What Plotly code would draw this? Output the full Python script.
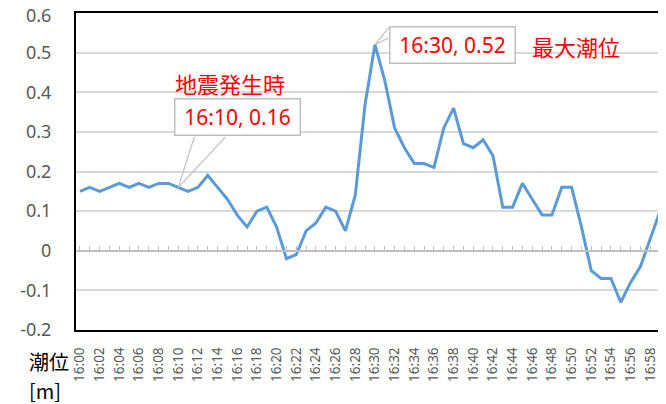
import plotly.graph_objects as go

# ---- data ----
times = ["16:%02d" % m for m in range(60)] + ["17:00"]
levels = [0.15, 0.16, 0.15, 0.16, 0.17, 0.16, 0.17, 0.16, 0.17, 0.17,
          0.16, 0.15, 0.16, 0.19, 0.16, 0.13, 0.09, 0.06, 0.10, 0.11,
          0.06, -0.02, -0.01, 0.05, 0.07, 0.11, 0.10, 0.05, 0.14, 0.37,
          0.52, 0.43, 0.31, 0.26, 0.22, 0.22, 0.21, 0.31, 0.36, 0.27,
          0.26, 0.28, 0.24, 0.11, 0.11, 0.17, 0.13, 0.09, 0.09, 0.16,
          0.16, 0.06, -0.05, -0.07, -0.07, -0.13, -0.08, -0.04, 0.03, 0.10,
          0.17]
y_tickvals = [-0.2, -0.1, 0, 0.1, 0.2, 0.3, 0.4, 0.5, 0.6]
y_ticktext = ["-0.2", "-0.1", "0", "0.1", "0.2", "0.3", "0.4", "0.5", "0.6"]
x_tickvals = times[::2]
quake_idx = 10
peak_idx = 30

# ---- layout geometry ----
# the page body adds an 8px margin, so the figure is placed at (8, 8)
OFF = 8
W, H = 666 - OFF, 404 - OFF
PL, PT, PB = 76, 13, 330          # plot area edges in page pixels
L, T = PL - OFF, PT - OFF
B = H - (PB - OFF)
R = 0
PW, PH = W - L - R, H - T - B

def paper(px, py):
    """page pixel -> paper fraction"""
    return (px - OFF - L) / PW, (H - B - (py - OFF)) / PH

RED = "#ff0000"
GRAY_TXT = "#595959"
BOXLINE = "#bfbfbf"
YFONT = 18

# the top tick label sits at the very edge of the page; it is drawn as an
# annotation nudged just inside the figure so it is not clipped
tick_text_axis = [t if v != max(y_tickvals) else "" for v, t in zip(y_tickvals, y_ticktext)]

fig = go.Figure()
fig.add_trace(go.Scatter(x=times, y=levels, mode="lines",
                         line=dict(color="#5b9bd5", width=3),
                         showlegend=False, hoverinfo="skip"))
# invisible trace to register the zero-line category axis
fig.add_trace(go.Scatter(x=times, y=levels, mode="lines", xaxis="x2",
                         line=dict(width=0, color="rgba(0,0,0,0)"),
                         showlegend=False, hoverinfo="skip"))

xrange = [-0.4, 59.6]
fig.update_layout(
    width=W, height=H,
    margin=dict(l=L, r=R, t=T, b=B, pad=0, autoexpand=False),
    paper_bgcolor="white", plot_bgcolor="white",
    font=dict(family="Noto Sans", color=GRAY_TXT),
    xaxis=dict(type="category", categoryarray=times, categoryorder="array",
               range=xrange, showgrid=False, zeroline=False,
               showline=True, linecolor="black", linewidth=2, mirror=True,
               ticks="", tickmode="array", tickvals=x_tickvals, ticktext=x_tickvals,
               tickangle=-90, tickfont=dict(size=13.5, color=GRAY_TXT, family="Noto Sans"),
               ticklabelstandoff=10, ticklabeloverflow="allow"),
    xaxis2=dict(type="category", categoryarray=times, categoryorder="array",
                range=xrange, overlaying="x", anchor="free", position=0.25,
                showgrid=False, zeroline=False, showline=True,
                linecolor="#bfbfbf", linewidth=1.5,
                ticks="inside", ticklen=4, tickwidth=1.2, tickcolor="#bfbfbf",
                dtick=1, showticklabels=False),
    yaxis=dict(range=[-0.2, 0.6], tickmode="array", tickvals=y_tickvals,
               ticktext=tick_text_axis, showgrid=True, gridcolor="#d9d9d9", gridwidth=1.5,
               zeroline=False, showline=True, linecolor="black", linewidth=2,
               ticks="", tickfont=dict(size=YFONT, color=GRAY_TXT, family="Noto Sans"),
               ticklabelstandoff=19, ticklabeloverflow="allow"),
)

anns = []
# top y tick label
tx, ty = paper(53, 15)
anns.append(dict(text=y_ticktext[-1], x=tx, y=ty, xref="paper", yref="paper",
                 xanchor="right", yanchor="middle", showarrow=False,
                 font=dict(family="Noto Sans", size=YFONT, color=GRAY_TXT)))
# axis title
for txt, py in [("潮位", 361), ("[m]", 390)]:
    ax_, ay_ = paper(27, py)
    anns.append(dict(text=txt, x=ax_, y=ay_, xref="paper", yref="paper",
                     xanchor="left", yanchor="middle", showarrow=False,
                     font=dict(family="Noto Sans CJK JP", size=20, color="black")))
# red labels
for txt, (px, py) in [("地震発生時", (230, 83)), ("最大潮位", (576, 46))]:
    ax_, ay_ = paper(px, py)
    anns.append(dict(text=txt, x=ax_, y=ay_, xref="paper", yref="paper",
                     xanchor="center", yanchor="middle", showarrow=False,
                     font=dict(family="Noto Sans CJK JP", size=22, color=RED)))

def callout(idx, label, box_off, wedges):
    out = [dict(x=times[idx], y=levels[idx], xref="x", yref="y", text=label,
                showarrow=True, arrowcolor="rgba(0,0,0,0)", ax=box_off[0], ay=box_off[1],
                font=dict(family="Noto Sans", size=21, color=RED),
                bgcolor="white", bordercolor=BOXLINE, borderwidth=1.5, borderpad=0,
                width=124, height=35)]
    for wx, wy in wedges:
        out.append(dict(x=times[idx], y=levels[idx], xref="x", yref="y", text="",
                        showarrow=True, arrowhead=0, arrowwidth=1.2, arrowcolor=BOXLINE,
                        ax=wx, ay=wy, standoff=0, startstandoff=0))
    return out

anns += callout(quake_idx, "16:10, 0.16", (59.5, -70.3), [(16.5, -51.8), (48.5, -51.8)])
anns += callout(peak_idx, "16:30, 0.52", (77.6, -0.2), [(15, -18.5), (15, -7.5)])

fig.update_layout(annotations=anns)
fig.write_html("out.html")
